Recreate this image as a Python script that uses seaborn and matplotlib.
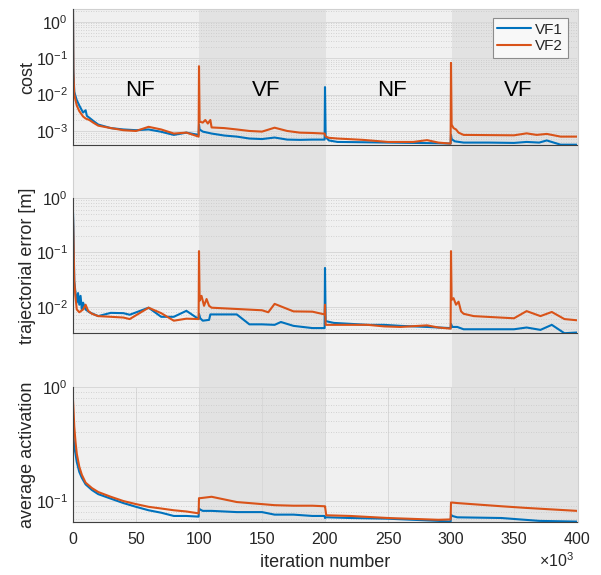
import numpy as np
import pandas as pd
import matplotlib
matplotlib.use("Agg")
import matplotlib.pyplot as plt
import matplotlib.ticker as mticker
import seaborn as sns

# ---------------- data (iterations in thousands) ----------------
cost_vf1_x = [0, 0.3, 1, 2, 3, 5, 8, 10, 11, 13, 16, 20, 30, 40, 50, 60, 70, 80, 90, 99.7,
              100, 100.5, 103, 110, 120, 130, 140, 150, 160, 170, 180, 190, 199.7, 200, 200.5,
              203, 210, 230, 250, 270, 290, 299.7, 300, 300.5, 303, 310, 330, 350, 360, 370,
              376, 387, 400]
cost_vf1_y = [2.2, 0.05, 0.012, 0.009, 0.007, 0.005, 0.0032, 0.0037, 0.0026, 0.0023,
              0.0019, 0.0015, 0.0012, 0.0011, 0.00105, 0.0011, 0.00095, 0.00078, 0.0009, 0.00078,
              0.0015, 0.0011, 0.00096, 0.00085, 0.00075, 0.0007, 0.00062, 0.0006, 0.00066, 0.00058,
              0.00057, 0.00058, 0.00058, 0.016, 0.0007, 0.00055, 0.0005, 0.00049, 0.00048, 0.00047,
              0.00046, 0.00045, 0.00078, 0.0006, 0.00052, 0.00048, 0.00048, 0.00047, 0.0005, 0.00048,
              0.00055, 0.00042, 0.00042]
cost_vf2_x = [0, 0.3, 1, 2, 3, 5, 8, 10, 13, 16, 20, 30, 40, 50, 60, 70, 80, 90, 99.7, 100,
              100.5, 103, 105, 107, 109, 110, 120, 130, 140, 150, 160, 170, 180, 190, 199.7,
              200.5, 203, 210, 230, 250, 270, 281, 290, 299.7, 300, 300.5, 302, 304, 306, 310,
              330, 350, 360, 368, 376, 387, 400]
cost_vf2_y = [2.0, 0.04, 0.01, 0.007, 0.005, 0.0035, 0.0025, 0.0022, 0.002, 0.0017,
              0.0014, 0.0012, 0.00105, 0.001, 0.0013, 0.0011, 0.00085, 0.0009, 0.0007, 0.06,
              0.0018, 0.0017, 0.002, 0.0016, 0.002, 0.00125, 0.0012, 0.0011, 0.001, 0.00096,
              0.00123, 0.001, 0.0009, 0.00088, 0.00085, 0.0007, 0.00065, 0.00062, 0.00057, 0.0005,
              0.0005, 0.00056, 0.00048, 0.00045, 0.074, 0.0015, 0.0012, 0.0011, 0.0009, 0.00078,
              0.00077, 0.00076, 0.00086, 0.00078, 0.00083, 0.0007, 0.0007]

err_vf1_x = [0, 0.3, 1, 2, 3, 4, 5, 6, 7, 8, 10, 13, 20, 30, 40, 45, 60, 70, 80, 90,
             99.7, 100, 101, 103, 108, 109, 130, 140, 150, 160, 165, 175, 190, 199.7, 200,
             200.5, 207, 234, 247, 260, 281, 299.7, 300, 301, 305, 310, 350, 360, 371, 380,
             390, 400]
err_vf1_y = [0.55, 0.3, 0.03, 0.018, 0.012, 0.018, 0.011, 0.016, 0.009, 0.012,
             0.009, 0.008, 0.0068, 0.0078, 0.0077, 0.0072, 0.0097, 0.0066, 0.0066, 0.0085,
             0.006, 0.0075, 0.0062, 0.0056, 0.0058, 0.0073, 0.0073, 0.0048, 0.0048, 0.0047,
             0.0053, 0.0045, 0.0041, 0.0041, 0.052, 0.0055, 0.0051, 0.0047, 0.0047, 0.0045,
             0.0043, 0.0041, 0.0049, 0.0043, 0.0043, 0.0039, 0.0039, 0.0042, 0.0038, 0.0047,
             0.0033, 0.0034]
err_vf2_x = [0, 0.3, 1, 2, 3, 5, 8, 10, 12, 15, 20, 30, 40, 45, 60, 70, 80, 90, 99.7, 100,
             100.5, 102, 104, 106, 108, 110, 150, 155, 160, 175, 190, 199.7, 200, 200.5, 207,
             234, 247, 260, 281, 290, 299.7, 300, 300.5, 302, 304, 306, 308, 310, 318, 350,
             360, 371, 380, 390, 400]
err_vf2_y = [0.45, 0.2, 0.03, 0.015, 0.009, 0.008, 0.009, 0.011, 0.0085, 0.0075,
             0.0068, 0.0066, 0.0064, 0.006, 0.0097, 0.0077, 0.0056, 0.0061, 0.006, 0.106,
             0.013, 0.016, 0.0105, 0.014, 0.0105, 0.0097, 0.0087, 0.008, 0.0114, 0.0083,
             0.0082, 0.0073, 0.011, 0.0047, 0.0047, 0.0047, 0.0044, 0.0043, 0.0046, 0.0042,
             0.004, 0.106, 0.0135, 0.0145, 0.011, 0.0125, 0.0083, 0.0075, 0.0068, 0.0062,
             0.0084, 0.0068, 0.0081, 0.006, 0.0057]

act_vf1_x = [0, 0.5, 1, 2, 3, 5, 7, 10, 15, 20, 30, 40, 50, 60, 70, 80, 90, 99.7, 100, 101,
             103, 110, 130, 150, 160, 175, 190, 199.7, 200, 201, 202, 220, 250, 290, 299.7,
             300, 301, 305, 340, 370, 400]
act_vf1_y = [0.45, 0.35, 0.3, 0.26, 0.22, 0.18, 0.16, 0.14, 0.125, 0.115,
             0.105, 0.096, 0.089, 0.083, 0.079, 0.074, 0.074, 0.073, 0.086, 0.084,
             0.082, 0.082, 0.08, 0.08, 0.076, 0.076, 0.074, 0.074, 0.071, 0.072,
             0.072, 0.071, 0.07, 0.067, 0.066, 0.076, 0.074, 0.072, 0.071, 0.067, 0.066]
act_vf2_x = [0, 0.5, 1, 2, 3, 5, 7, 10, 15, 20, 30, 40, 50, 60, 70, 80, 90, 99.7, 100, 101,
             110, 130, 150, 160, 175, 190, 199.7, 200, 201, 220, 250, 290, 299.7, 300, 301,
             305, 340, 360, 400]
act_vf2_y = [0.77, 0.6, 0.45, 0.33, 0.26, 0.2, 0.17, 0.145, 0.13, 0.12,
             0.109, 0.1, 0.094, 0.089, 0.086, 0.083, 0.081, 0.078, 0.106, 0.106,
             0.109, 0.098, 0.094, 0.092, 0.091, 0.091, 0.09, 0.09, 0.075, 0.074,
             0.071, 0.0685, 0.069, 0.097, 0.097, 0.096, 0.09, 0.087, 0.082]

phase_labels = ["NF", "VF", "NF", "VF"]
phase_starts = [0, 100, 200, 300]
phase_ends = [100, 200, 300, 400]
phase_colors = {"NF": "#f0f0f0", "VF": "#e2e2e2"}

series_names = ["VF1", "VF2"]
series_colors = {"VF1": "#0072BD", "VF2": "#D95319"}

x_ticks = [0, 50, 100, 150, 200, 250, 300, 350, 400]

# ---------------- style ----------------
sns.set_theme(style="white")
plt.rcParams["font.family"] = ["Liberation Sans", "DejaVu Sans"]
plt.rcParams["mathtext.fontset"] = "custom"
plt.rcParams["mathtext.rm"] = "Liberation Sans"
plt.rcParams["mathtext.it"] = "Liberation Sans:italic"
plt.rcParams["mathtext.bf"] = "Liberation Sans:bold"
plt.rcParams["mathtext.default"] = "regular"

W, H = 601, 575
fig = plt.figure(figsize=(W / 100, H / 100), dpi=100)

def frac_rect(left, top, right, bottom):
    return [left / W, 1 - bottom / H, (right - left) / W, (bottom - top) / H]

AX_L, AX_R = 73, 577
# background shading axes
bg = fig.add_axes(frac_rect(AX_L, 9, AX_R + 1, 522))
bg.set_xlim(0, 400)
bg.set_ylim(0, 1)
for lab, s, e in zip(phase_labels, phase_starts, phase_ends):
    bg.axvspan(s, e, color=phase_colors[lab], lw=0)
bg.set_xticks([])
bg.set_yticks([])
for sp in bg.spines.values():
    sp.set_color("#d0d0d0")
    sp.set_linewidth(0.8)

panel_rects = [(9, 145), (198, 333), (387, 522)]
panel_ylims = [(4.12e-4, 2.23), (3.33e-3, 1.0), (0.0655, 1.0)]
panel_yticks = [[1e-3, 1e-2, 1e-1, 1], [1e-2, 1e-1, 1], [1e-1, 1]]
panel_ylabels = ["cost", "trajectorial error [m]", "average activation"]
panel_data = [
    ((cost_vf1_x, cost_vf1_y), (cost_vf2_x, cost_vf2_y)),
    ((err_vf1_x, err_vf1_y), (err_vf2_x, err_vf2_y)),
    ((act_vf1_x, act_vf1_y), (act_vf2_x, act_vf2_y)),
]

spine_col = "#404040"
text_col = "#262626"
axes = []
for i, ((t, b), ylim, yt, ylab, data) in enumerate(
        zip(panel_rects, panel_ylims, panel_yticks, panel_ylabels, panel_data)):
    ax = fig.add_axes(frac_rect(AX_L, t, AX_R, b))
    ax.set_facecolor("none")
    ax.set_yscale("log")
    for name, (xs, ys) in zip(series_names, data):
        df = pd.DataFrame({"iter": xs, "val": ys})
        sns.lineplot(data=df, x="iter", y="val", ax=ax, color=series_colors[name],
                     lw=1.5, estimator=None, sort=False,
                     label=name if i == 0 else None, legend=(i == 0))
    ax.set_xlim(0, 400)
    ax.set_ylim(*ylim)
    ax.yaxis.set_major_locator(mticker.FixedLocator(yt))
    ax.yaxis.set_major_formatter(mticker.LogFormatterSciNotation())
    ax.yaxis.set_minor_locator(mticker.LogLocator(base=10, subs=np.arange(2, 10), numticks=20))
    ax.yaxis.set_minor_formatter(mticker.NullFormatter())
    ax.grid(True, which="major", axis="y", color="#d8d8d8", lw=0.7, ls="-")
    ax.grid(True, which="minor", axis="y", color="#c8c8c8", lw=0.6, ls=(0, (1, 2)))
    ax.set_axisbelow(True)
    for side in ["top", "right"]:
        ax.spines[side].set_visible(False)
    for side in ["left", "bottom"]:
        ax.spines[side].set_color(spine_col)
        ax.spines[side].set_linewidth(0.8)
    ax.tick_params(axis="y", which="major", direction="in", length=4, width=0.6,
                   color=spine_col, labelsize=11.5, labelcolor=text_col, pad=3.5)
    ax.tick_params(axis="y", which="minor", direction="in", length=2, width=0.5,
                   color=spine_col)
    ax.set_ylabel(ylab, fontsize=13, color=text_col)
    ax.yaxis.set_label_coords(-0.073, 0.5)
    if i < 2:
        ax.set_xticks([])
        ax.set_xlabel("")
    else:
        ax.set_xticks(x_ticks)
        ax.xaxis.set_minor_locator(mticker.NullLocator())
        ax.grid(True, which="major", axis="x", color="#d8d8d8", lw=0.7, ls="-")
        ax.tick_params(axis="x", which="major", direction="in", length=4, width=0.6,
                       color=spine_col, labelsize=11.5, labelcolor=text_col, pad=7)
        ax.set_xlabel("iteration number", fontsize=13, color=text_col)
        ax.xaxis.set_label_coords(0.5, -0.235)
    axes.append(ax)

# phase labels in the top panel
for lab, s, e in zip(phase_labels, phase_starts, phase_ends):
    axes[0].text((s + e) / 2 + 3, 0.404, lab, transform=axes[0].get_xaxis_transform(),
                 ha="center", va="center", fontsize=16, color="black")

leg = axes[0].legend(loc="upper right", fontsize=11, frameon=True, fancybox=False,
                     handlelength=2.2, handletextpad=0.3, borderpad=0.3,
                     labelspacing=0.15, borderaxespad=0.6)
leg.get_frame().set_edgecolor("#8c8c8c")
leg.get_frame().set_facecolor("#f8f8f8")
leg.get_frame().set_linewidth(0.8)
leg.get_frame().set_alpha(1)
for txt in leg.get_texts():
    txt.set_color(text_col)

fig.text(557 / W, 1 - 561 / H, r"$\times10^{3}$", ha="center", va="center",
         fontsize=11.5, color=text_col)

fig.savefig("out.png", dpi=100)
